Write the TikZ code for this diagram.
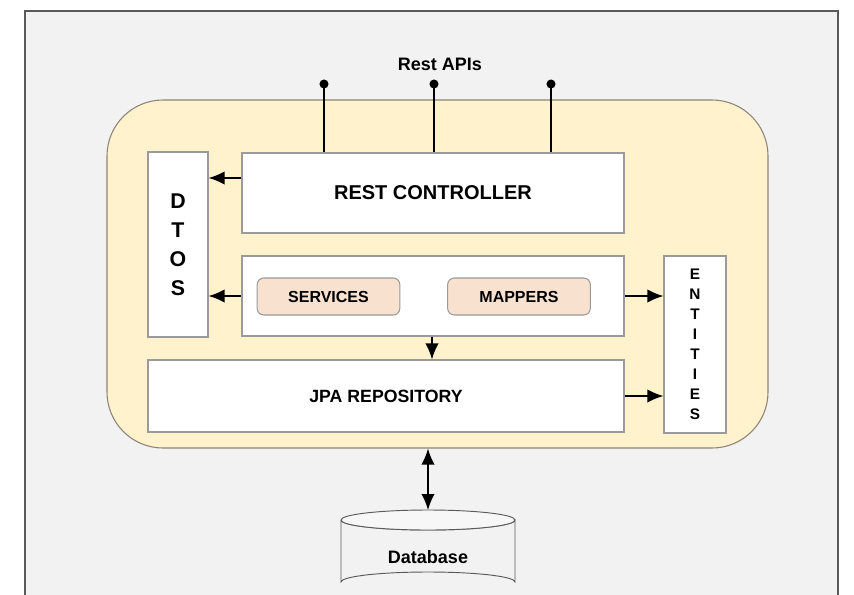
\documentclass[tikz,border=0pt]{standalone}
\usepackage{fontspec}
\setmainfont{Liberation Sans}
\usetikzlibrary{arrows.meta}
\definecolor{panelgrey}{HTML}{F2F2F2}
\definecolor{panelline}{HTML}{5A5A5A}
\definecolor{appyellow}{HTML}{FFF2CC}
\definecolor{appline}{HTML}{8C8577}
\definecolor{boxline}{HTML}{9A9A9A}
\definecolor{peach}{HTML}{F8E2CF}
\begin{document}
\begin{tikzpicture}[x=0.75pt,y=-0.75pt,
    layer/.style={draw=boxline,fill=white,line width=0.8pt,inner sep=0pt,
        font=\bfseries\fontsize{15}{18}\selectfont},
    part/.style={draw=boxline,fill=peach,rounded corners=5pt,line width=0.8pt,
        minimum width=107pt,minimum height=27.75pt,font=\bfseries\fontsize{12}{14}\selectfont},
    arr/.style={line width=1.2pt,-{Latex[length=12pt,width=10pt]}}]
\useasboundingbox (0,0) rectangle (854,594);
% grey sheet
\fill[white] (0,0) rectangle (854,594);
\draw[panelline,fill=panelgrey,line width=0.8pt] (25,600) -- (25,11) -- (838,11) -- (838,600);

% application container
\node[draw=appline,fill=appyellow,line width=0.8pt,rounded corners=42pt,
    minimum width=495.75pt,minimum height=261pt] (app) at (437.5,274) {};

% layers
\node[layer,minimum width=286.5pt,minimum height=60pt] (rest) at (433,193) {REST CONTROLLER};
\node[layer,minimum width=286.5pt,minimum height=60pt] (logic) at (433,296) {};
\node[part] (services) at (328.5,296.5) {SERVICES};
\node[part] (mappers) at (519,296.5) {MAPPERS};
\node[layer,minimum width=357pt,minimum height=54pt,font=\bfseries\fontsize{13.3}{16}\selectfont]
    (jpa) at (386,396) {JPA REPOSITORY};
\node[layer,minimum width=45pt,minimum height=138.75pt,align=center,
    font=\bfseries\fontsize{16}{21.75}\selectfont] (dtos) at (178,244.5) {D\\T\\O\\S};
\node[layer,minimum width=46.5pt,minimum height=132.75pt,align=center,
    font=\bfseries\fontsize{11.5}{15}\selectfont] (entities) at (695,344.5) {E\\N\\T\\I\\T\\I\\E\\S};

% rest apis
\node[font=\bfseries\fontsize{13.5}{16}\selectfont] (apis) at (440,64) {Rest APIs};
\foreach \i/\x in {1/324,2/434,3/551}{
  \coordinate (api\i) at (\x,84);
  \draw[line width=1.3pt] (api\i) -- (api\i |- rest.north);
  \fill (api\i) circle (3.4pt);
}

% arrows between layers
\draw[arr] ([yshift=11.25pt]rest.west) -- ([yshift=11.25pt]rest.west -| dtos.east);
\draw[arr] (logic.west) -- (logic.west -| dtos.east);
\draw[arr] (logic.east) -- (logic.east -| entities.west);
\draw[arr] (jpa.east) -- (jpa.east -| entities.west);
\draw[arr] ([xshift=-0.75pt]logic.south) -- ([xshift=-0.75pt]logic.south |- jpa.north);

% database
\coordinate (dbtop) at (428,510);
\draw[panelline,fill=panelgrey,line width=0.7pt]
    (341,520) -- (341,582) arc[start angle=180,end angle=360,x radius=87,y radius=10]
    -- (515,520) arc[start angle=0,end angle=180,x radius=87,y radius=10];
\draw[panelline,fill=panelgrey!60!white,line width=0.7pt] (428,520) ellipse[x radius=87,y radius=10];
\node[font=\bfseries\fontsize{13.5}{16}\selectfont] (db) at (428,557) {Database};
\draw[arr,{Latex[length=12pt,width=10pt]}-{Latex[length=12pt,width=10pt]}] (dbtop |- app.south) -- (dbtop);
\end{tikzpicture}
\end{document}
